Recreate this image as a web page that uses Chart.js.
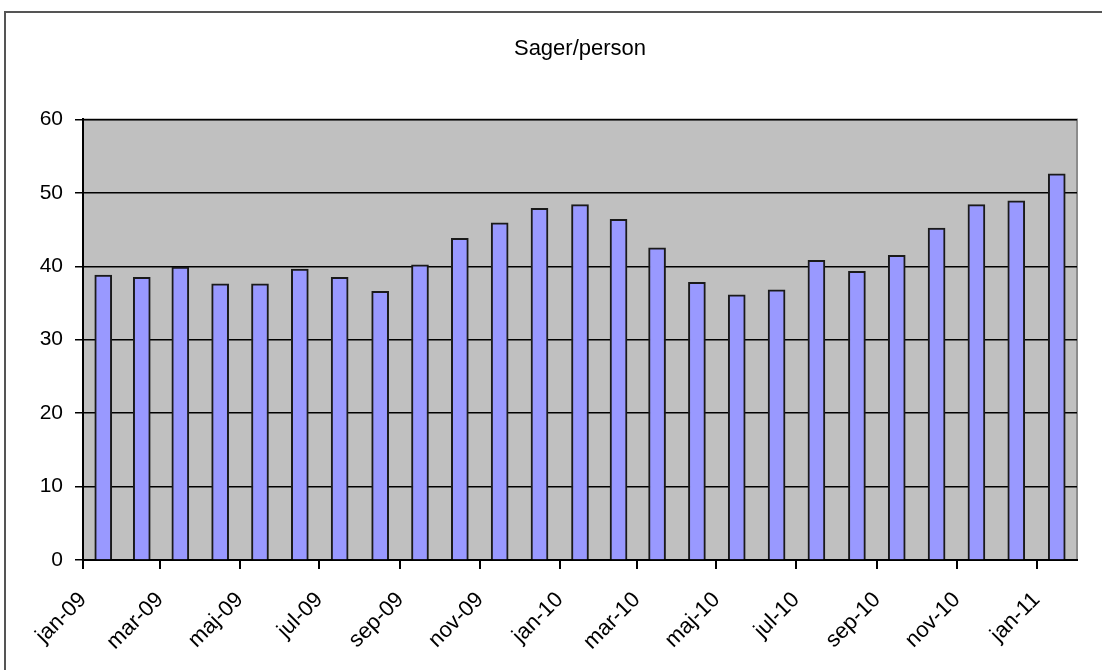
<!DOCTYPE html>
<html>
<head>
<meta charset="utf-8">
<script src="https://cdn.jsdelivr.net/npm/chart.js@4"></script>
<style>
  body { margin: 0; background: #fff; }
  #wrap { position: relative; width: 1102px; height: 670px; overflow: hidden; }
  #frame { position: absolute; left: 4px; top: 11px; width: 1200px; height: 800px;
           border-left: 2px solid #555; border-top: 2px solid #555; }
  canvas { position: absolute; left: 0; top: 0; }
</style>
</head>
<body>
<div id="wrap">
  <div id="frame"></div>
  <canvas id="chart" width="1102" height="670"></canvas>
</div>
<script>
// monthly values, jan-09 .. jan-11
const months = ['jan-09','feb-09','mar-09','apr-09','maj-09','jun-09','jul-09','aug-09','sep-09','okt-09','nov-09','dec-09',
                'jan-10','feb-10','mar-10','apr-10','maj-10','jun-10','jul-10','aug-10','sep-10','okt-10','nov-10','dec-10',
                'jan-11'];
const values = [38.8, 38.5, 39.9, 37.6, 37.6, 39.6, 38.5, 36.6, 40.2, 43.8, 45.9, 47.9,
                48.4, 46.4, 42.5, 37.8, 36.1, 36.8, 40.8, 39.3, 41.5, 45.2, 48.4, 48.9,
                52.6];
const tickLabels = ['jan-09','mar-09','maj-09','jul-09','sep-09','nov-09','jan-10','mar-10','maj-10','jul-10','sep-10','nov-10','jan-11'];
const yTicks = [0, 10, 20, 30, 40, 50, 60];

// date axis: days counted from 1 jan 2009
const dayOf = i => (Date.UTC(2009, i, 1) - Date.UTC(2009, 0, 1)) / 86400000;
const points = values.map((v, i) => ({ x: (dayOf(i) + dayOf(i + 1)) / 2, y: v }));
const tickDays = tickLabels.map(l => dayOf(months.indexOf(l)));

const plotBg = {
  id: 'plotBg',
  beforeDraw(chart) {
    const { ctx, chartArea: a } = chart;
    ctx.save();
    ctx.fillStyle = '#c0c0c0';
    ctx.fillRect(a.left, a.top, a.right - a.left, a.bottom - a.top);
    ctx.strokeStyle = '#8c8c8c';
    ctx.lineWidth = 2;
    ctx.beginPath();
    ctx.moveTo(a.left, a.top);
    ctx.lineTo(a.right, a.top);
    ctx.lineTo(a.right, a.bottom);
    ctx.stroke();
    ctx.restore();
  }
};

const font = { family: 'Liberation Sans, Arial, sans-serif', size: 21 };

new Chart(document.getElementById('chart'), {
  type: 'bar',
  data: {
    datasets: [{
      data: points,
      backgroundColor: '#9999ff',
      borderColor: '#1a1a1a',
      borderWidth: 2,
      barThickness: 17
    }]
  },
  options: {
    responsive: false,
    animation: false,
    layout: { padding: { left: 5, right: 25, top: 12, bottom: 0 } },
    plugins: {
      legend: { display: false },
      tooltip: { enabled: false },
      title: {
        display: true,
        fullSize: false,
        text: 'Sager/person',
        color: '#000',
        font: { family: font.family, size: 22, weight: 'normal' },
        padding: { top: 24, bottom: 57 }
      }
    },
    scales: {
      x: {
        type: 'linear',
        offset: false,
        min: 0,
        max: dayOf(months.length),
        afterBuildTicks: s => { s.ticks = tickDays.map(v => ({ value: v })); },
        afterFit: s => { s.height = 110; },
        border: { color: '#000', width: 2 },
        grid: { drawOnChartArea: false, drawTicks: true, tickLength: 9, color: '#000', lineWidth: 2, offset: false },
        ticks: {
          autoSkip: false,
          minRotation: 45,
          maxRotation: 45,
          padding: 18,
          color: '#000',
          font: { family: font.family, size: 22 },
          callback: v => tickLabels[tickDays.indexOf(v)]
        }
      },
      y: {
        min: 0,
        max: 60,
        afterBuildTicks: s => { s.ticks = yTicks.map(v => ({ value: v })); },
        afterFit: s => { s.width = 78; },
        border: { color: '#000', width: 2 },
        grid: { color: '#000', lineWidth: 1.5, tickLength: 8 },
        ticks: { padding: 12, color: '#000', font: font }
      }
    }
  },
  plugins: [plotBg]
});
</script>
</body>
</html>
